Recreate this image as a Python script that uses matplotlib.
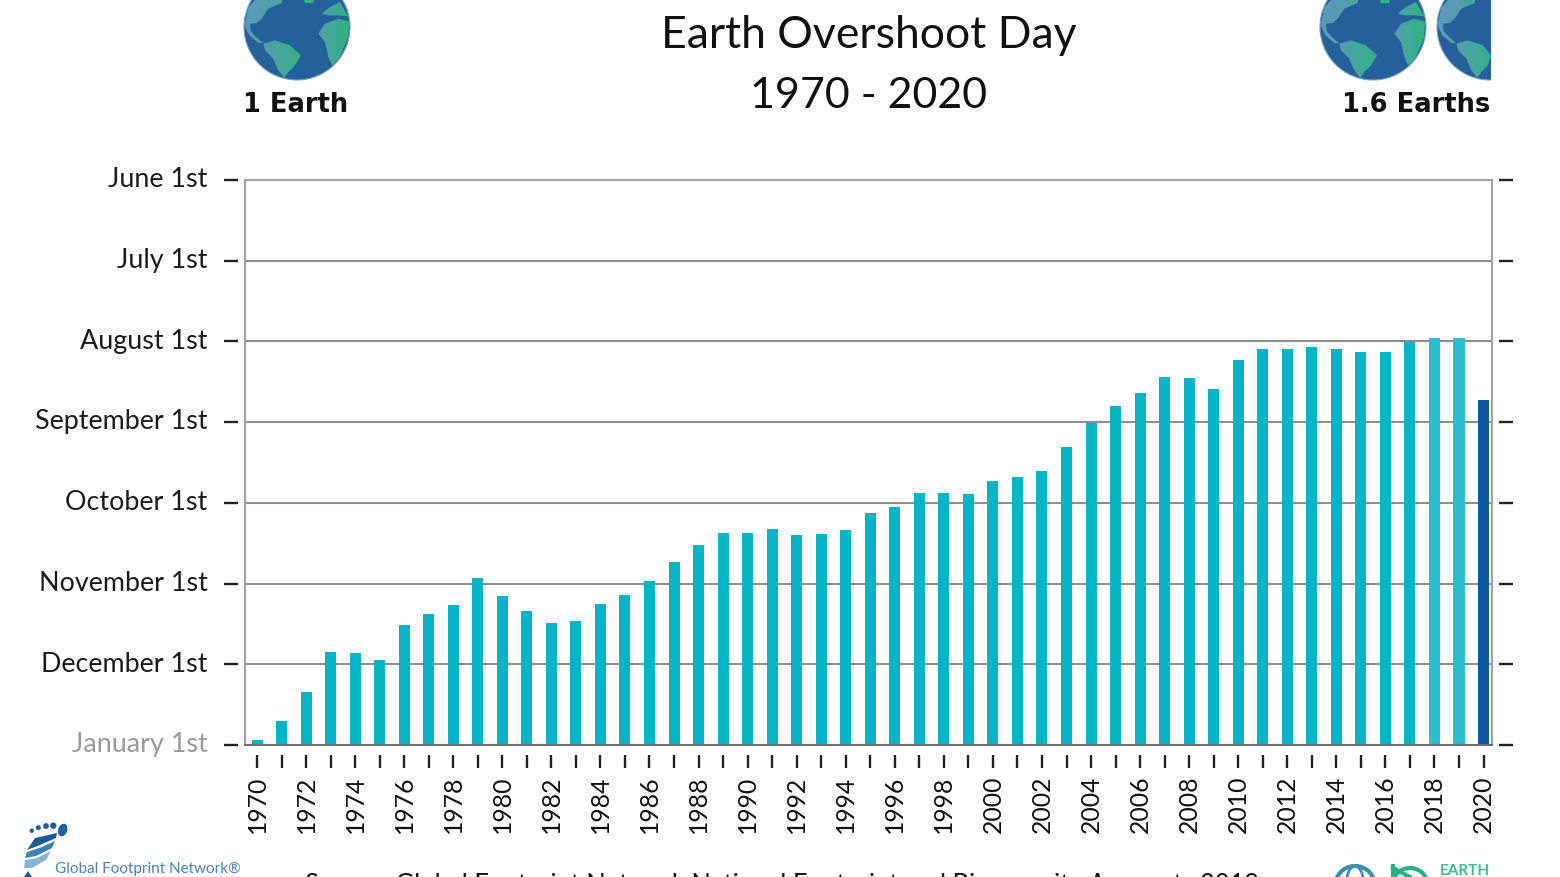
import numpy as np
import matplotlib
matplotlib.use("Agg")
import matplotlib.pyplot as plt
from matplotlib.path import Path
from matplotlib.patches import Circle, PathPatch, Ellipse, Arc, Rectangle
from matplotlib.transforms import ScaledTranslation

FONT = ['Lato', 'DejaVu Sans']
plt.rcParams['font.family'] = FONT

years = list(range(1970, 2021))
# months ahead of January 1st on which the overshoot day falls
months_early = [0.06, 0.30, 0.66, 1.15, 1.14, 1.05, 1.49, 1.62, 1.73, 2.07,
                1.85, 1.66, 1.51, 1.54, 1.75, 1.86, 2.03, 2.27, 2.48, 2.63,
                2.63, 2.68, 2.60, 2.61, 2.66, 2.87, 2.95, 3.12, 3.12, 3.11,
                3.27, 3.32, 3.39, 3.69, 3.99, 4.20, 4.36, 4.56, 4.55, 4.41,
                4.77, 4.91, 4.91, 4.93, 4.91, 4.87, 4.87, 4.99, 5.04, 5.04,
                4.27]
month_labels = ['January 1st', 'December 1st', 'November 1st', 'October 1st',
                'September 1st', 'August 1st', 'July 1st', 'June 1st']
bar_colors = ['#07b5c6'] * 48 + ['#2dbdd0', '#2dbdd0', '#0d5a9e']
year_labels = [str(y) if (y - 1970) % 2 == 0 else '' for y in years]

W, H = 1560, 877
fig = plt.figure(figsize=(W / 100, H / 100), dpi=100, facecolor='white')

# main axes: pixel box 245..1492 x 180..745
ax = fig.add_axes([245 / W, 1 - 745 / H, (1492 - 245) / W, (745 - 180) / H])
ax.bar(years, months_early, width=0.45, color=bar_colors, zorder=3)
ax.set_xlim(1970 - 0.49, 1970 - 0.49 + 1247 / 24.53)
ax.set_ylim(0, 7)
ax.set_yticks(range(8))
ax.set_yticklabels(month_labels)
ax.set_xticks(years)
ax.set_xticklabels(year_labels, rotation=90)
ax.grid(axis='y', color='#8f8f93', lw=1.5, zorder=1)
ax.set_axisbelow(True)

for s in ['top', 'bottom']:
    ax.spines[s].set_color('#a2a2a6')
    ax.spines[s].set_linewidth(1.5)
ax.spines['bottom'].set_color('#6f6f73')
ax.spines['left'].set_position(('outward', 5))
ax.spines['right'].set_position(('outward', 5))
ax.spines['bottom'].set_zorder(4)
ax.spines['left'].set_visible(False)
ax.spines['right'].set_visible(False)
for xv in (0, 1):
    ax.plot([xv, xv], [0, 1], transform=ax.transAxes, color='#a2a2a6', lw=1.5,
            clip_on=False, zorder=4)

ax.tick_params(axis='y', left=True, right=True, length=10, width=1.7, color='#222222',
               pad=12, labelsize=19.4, labelcolor='#1c1c1c')
ax.tick_params(axis='x', length=9.5, width=1.7, color='#222222', pad=5, labelsize=17.8,
               labelcolor='#111111')
# x ticks sit apart from the axis: draw them with an offset
off_x = ScaledTranslation(0, -7.5 / 72, fig.dpi_scale_trans)
for t in ax.xaxis.get_major_ticks():
    t.tick1line.set_transform(t.tick1line.get_transform() + off_x)
    t.label1.set_transform(t.label1.get_transform() + off_x)
off_y = ScaledTranslation(0, 2 / 72, fig.dpi_scale_trans)
for lab in ax.get_yticklabels():
    lab.set_transform(lab.get_transform() + off_y)
ax.get_yticklabels()[0].set_color('#9a9a9a')

# decoration layer in pixel coordinates
ov = fig.add_axes([0, 0, 1, 1], facecolor='none')
ov.set_xlim(0, W)
ov.set_ylim(H, 0)
ov.axis('off')

ov.text(869, 35, 'Earth Overshoot Day', ha='center', va='center', fontsize=32, color='#111111')
ov.text(869, 96, '1970 - 2020', ha='center', va='center', fontsize=31, color='#111111')
ov.text(243, 105, '1 Earth', ha='left', va='center', fontsize=18.5, fontweight='bold',
        color='#111111', family='DejaVu Sans')
ov.text(1490, 105, '1.6 Earths', ha='right', va='center', fontsize=18.5, fontweight='bold',
        color='#111111', family='DejaVu Sans')

south_am = [(190, 130), (225, 120), (270, 135), (303, 165), (285, 195), (265, 215),
            (252, 237), (235, 210), (220, 175), (195, 150)]
north_am = [(252, -30), (245, 8), (205, 25), (185, 55), (170, 68), (150, 70), (152, 92),
            (170, 112), (190, 128), (175, 128), (148, 105), (120, 75), (140, 20), (190, -30)]
africa = [(355, 100), (375, 70), (415, 55), (460, 62), (445, 110), (420, 170),
          (400, 200), (385, 170), (375, 125)]
europe = [(365, 40), (390, 20), (420, 5), (460, 45), (415, 45), (385, 45)]
greenland = [(300, -30), (345, -30), (340, 8), (315, 8)]
continents = [south_am, north_am, africa, europe, greenland]

_stops = [0.0, 0.20, 0.38, 0.60, 0.68, 0.74, 1.0]
_mix = [0.0, 0.15, 0.55, 1.0, 0.15, 0.25, 1.0]
_t = np.interp(np.linspace(0, 1, 128), _stops, _mix)[None, :, None]
ramp_img = (1 - _t) * np.array([0.36, 0.60, 0.72]) + _t * np.array([0.17, 0.71, 0.49])


def globe(cx, cy, r, clip_right=None):
    clip = Rectangle((cx - r - 2, -5), (clip_right or cx + r + 2) - (cx - r - 2), 200,
                     transform=ov.transData)
    c = Circle((cx, cy), r, fc='#25609b', ec='#7aa3b8', lw=0.8)
    ov.add_patch(c)
    c.set_clip_path(clip)
    verts, codes = [], []
    for poly in continents:
        pts = []
        for a, b in poly:
            u, v = (a - 291) / 159, (b - 80) / 159
            d = np.hypot(u, v)
            if d > 0.99:
                u, v = u / d * 0.99, v / d * 0.99
            x = cx + u * r
            if clip_right:
                x = min(x, clip_right)
            pts.append((x, cy + v * r))
        verts += pts + [pts[0]]
        codes += [Path.MOVETO] + [Path.LINETO] * (len(pts) - 1) + [Path.CLOSEPOLY]
    im = ov.imshow(ramp_img, extent=(cx - r, cx + r, cy + r, cy - r), aspect='auto', zorder=2)
    im.set_clip_path(Path(verts, codes), transform=ov.transData)


globe(297, 27, 53)
globe(1373, 27, 53)
globe(1490, 27, 53, clip_right=1491)
ov.set_xlim(0, W)
ov.set_ylim(H, 0)

# footprint logo
for (x, y, r) in [(31.7, 830.7, 2.2), (38.3, 827.7, 2.5), (46, 826, 2.9), (53.3, 825.7, 3.2)]:
    ov.add_patch(Circle((x, y), r, fc='#1f5f9f', ec='none', zorder=3))
ov.add_patch(Ellipse((62.7, 830), 9, 13, angle=20, fc='#1f5f9f', ec='none', zorder=3))
stripes = [([(27, 850), (35, 838), (57, 833), (56, 838), (40, 845)], '#1a5a9a'),
           ([(25, 858), (27, 852), (42, 847), (55, 841), (52, 848), (36, 856)], '#3a80b8'),
           ([(24, 868), (25, 860), (37, 858), (51, 851), (46, 860), (32, 868)], '#86b4d4')]
for pts, col in stripes:
    ov.fill([p[0] for p in pts], [p[1] for p in pts], color=col, lw=0, zorder=3)
ov.fill([24, 28, 32], [877, 871, 877], color='#1a5a9a', lw=0, zorder=3)
ov.text(55, 869, 'Global Footprint Network®', ha='left', va='center', fontsize=11,
        color='#4f82b5')

ov.text(305, 886, 'Source: Global Footprint Network National Footprint and Biocapacity Accounts 2019',
        ha='left', va='center', fontsize=18.4, color='#111111', clip_on=False)

# Earth overshoot logo, cut by the lower edge
ov.add_patch(Arc((1355, 886), 40, 40, theta1=180, theta2=360, ec='#3f8fb3', lw=3))
ov.add_patch(Ellipse((1355, 886), 18, 40, fc='none', ec='#3f8fb3', lw=2))
ov.add_patch(Arc((1410, 886), 36, 36, theta1=180, theta2=360, ec='#2cae86', lw=3))
ov.plot([1393, 1393], [866, 877], color='#2cae86', lw=3)
ov.plot([1393, 1410], [868, 877], color='#2cae86', lw=3)
ov.set_xlim(0, W)
ov.set_ylim(H, 0)
ov.text(1440, 871, 'EARTH', ha='left', va='center', fontsize=11, fontweight='bold',
        color='#3dbb8a')

fig.savefig('out.png', dpi=100)
